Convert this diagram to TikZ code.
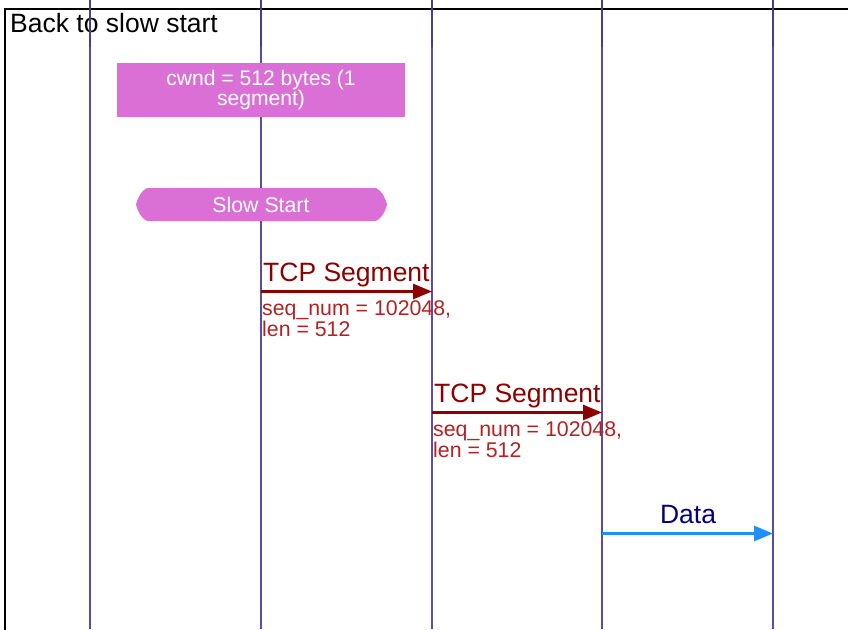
\documentclass[tikz,border=0pt]{standalone}
\usepackage{fontspec}
\setmainfont{Liberation Sans}
\usetikzlibrary{arrows.meta}
\definecolor{lifeline}{HTML}{5A4CA0}
\definecolor{lifelinetop}{HTML}{483D8B}
\definecolor{boxfill}{HTML}{DA70D6}
\definecolor{segred}{HTML}{8B0000}
\definecolor{seqred}{HTML}{B22222}
\definecolor{datablue}{HTML}{1E90FF}
\definecolor{datanavy}{HTML}{000080}
\tikzset{
  lifelinestyle/.style={draw=lifeline, line width=2pt},
  lifelinehead/.style={draw=lifelinetop, line width=2pt},
  bigtext/.style={font=\fontsize{26.5}{30}\selectfont, inner sep=0pt},
  smalltext/.style={font=\fontsize{21.3}{21}\selectfont, inner sep=0pt},
  segarrow/.style={draw=segred, line width=3pt, -{Triangle[length=19pt,width=15pt]}},
  dataarrow/.style={draw=datablue, line width=3pt, -{Triangle[length=19pt,width=15pt]}},
  notebox/.style={fill=boxfill, text=white, align=center, minimum width=288pt, minimum height=54pt, inner sep=0pt, font=\fontsize{21.1}{20}\selectfont},
}
\begin{document}
\begin{tikzpicture}[x=1pt,y=-1pt]
\useasboundingbox (0,0) rectangle (848,629);
% frame
\draw[black, line width=2pt] (5,640) -- (5,8.5) -- (860,8.5);
\node[bigtext, anchor=base west] (title) at (10,32) {Back to slow start};
% lifelines
\foreach \i/\x in {1/90,2/261,3/432,4/602,5/773}{
  \coordinate (top\i) at (\x,0);
  \coordinate (mid\i) at (\x,47);
  \coordinate (bot\i) at (\x,629);
  \draw[lifelinehead] (top\i) -- (mid\i);
  \draw[lifelinestyle] (mid\i) -- (bot\i);
}
% cwnd note
\node[notebox] (cwnd) at (261,90) {cwnd = 512 bytes (1\\segment)};
% slow start
\fill[boxfill] (136,204.5) .. controls (138,197) and (141,191) .. (147,188)
  -- (376,188) .. controls (382,191) and (385,197) .. (387,204.5)
  .. controls (385,212) and (382,218) .. (376,221)
  -- (147,221) .. controls (141,218) and (138,212) .. (136,204.5) -- cycle;
\node[font=\fontsize{21.3}{20}\selectfont, text=white, inner sep=0pt] (ss) at (261,204.5) {Slow Start};
% segment 1
\coordinate (s1a) at (261,291.5);
\coordinate (s1b) at (432,291.5);
\draw[segarrow] (s1a) -- (s1b);
\node[bigtext, text=segred, anchor=base west] (seg1) at (263,281) {TCP Segment};
\node[smalltext, text=seqred, anchor=base west, align=left] (seq1) at (262,336.5) {seq\_num = 102048,\\len = 512};
% segment 2
\coordinate (s2a) at (432,412.5);
\coordinate (s2b) at (602,412.5);
\draw[segarrow] (s2a) -- (s2b);
\node[bigtext, text=segred, anchor=base west] (seg2) at (434,402) {TCP Segment};
\node[smalltext, text=seqred, anchor=base west, align=left] (seq2) at (433,457) {seq\_num = 102048,\\len = 512};
% data
\coordinate (d1) at (602,533.5);
\coordinate (d2) at (773,533.5);
\draw[dataarrow] (d1) -- (d2);
\node[bigtext, text=datanavy, anchor=base] (data) at (688,523) {Data};
\end{tikzpicture}
\end{document}
